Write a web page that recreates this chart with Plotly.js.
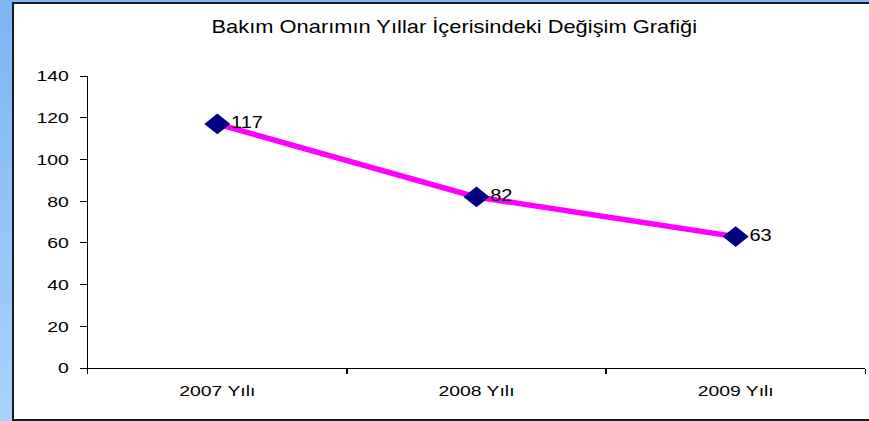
<!DOCTYPE html>
<html>
<head>
<meta charset="utf-8">
<script src="https://cdn.plot.ly/plotly-3.0.1.min.js"></script>
<style>
  html, body { margin: 0; padding: 0; width: 869px; height: 421px; overflow: hidden;
    background: linear-gradient(#7db5f6, #a9d1fb); }
  #frame { position: absolute; left: 12px; top: 2px; width: 870px; height: 415px;
    background: #fff; border-left: 2px solid #1b1b1b; border-top: 2px solid #1b1b1b; border-bottom: 2px solid #1b1b1b; overflow: hidden; }
  #chart { position: absolute; left: 0; top: 0; width: 684px; height: 414px;
    transform: scaleX(1.25); transform-origin: 0 0; }
</style>
</head>
<body>
<div id="frame"><div id="chart"></div></div>
<script>
const categories = ["2007 Yılı", "2008 Yılı", "2009 Yılı"];
const values = [117, 82, 63];
const valueLabels = ["117", "82", "63"];
const yTicks = [0, 20, 40, 60, 80, 100, 120, 140];
const chartTitle = "Bakım Onarımın Yıllar İçerisindeki Değişim Grafiği";

const font = "Liberation Sans, Arial, sans-serif";

Plotly.newPlot("chart", [{
  type: "scatter",
  mode: "lines+markers+text",
  x: categories,
  y: values,
  text: valueLabels,
  textposition: "middle right",
  textfont: { family: font, size: 16, color: "#000" },
  line: { color: "#FF00FF", width: 5.5 },
  marker: { symbol: "diamond", size: 16, color: "#000080" },
  hoverinfo: "none",
  cliponaxis: false
}], {
  width: 684,
  height: 414,
  margin: { l: 59, r: 2.5, t: 72, b: 50 },
  paper_bgcolor: "#fff",
  plot_bgcolor: "#fff",
  showlegend: false,
  font: { family: font, size: 15, color: "#000" },
  title: {
    text: chartTitle,
    font: { family: font, size: 17.5, color: "#000" },
    xref: "container", x: 0.515, xanchor: "center",
    yref: "container", y: 0.944, yanchor: "middle"
  },
  xaxis: {
    type: "category",
    range: [-0.5, 2.5],
    showline: true, linecolor: "#000", linewidth: 1,
    showgrid: false, zeroline: false,
    ticks: "outside", tickson: "boundaries", ticklen: 5, tickcolor: "#000",
    tickfont: { family: font, size: 15.5, color: "#000" },
    ticklabelstandoff: 8
  },
  yaxis: {
    range: [0, 140],
    tickvals: yTicks,
    ticktext: yTicks.map(String),
    showline: true, linecolor: "#000", linewidth: 1,
    showgrid: false, zeroline: false,
    ticks: "outside", ticklen: 5, tickcolor: "#000",
    tickfont: { family: font, size: 15.5, color: "#000" },
    ticklabelstandoff: 6
  }
}, { displayModeBar: false, staticPlot: true });
</script>
</body>
</html>
